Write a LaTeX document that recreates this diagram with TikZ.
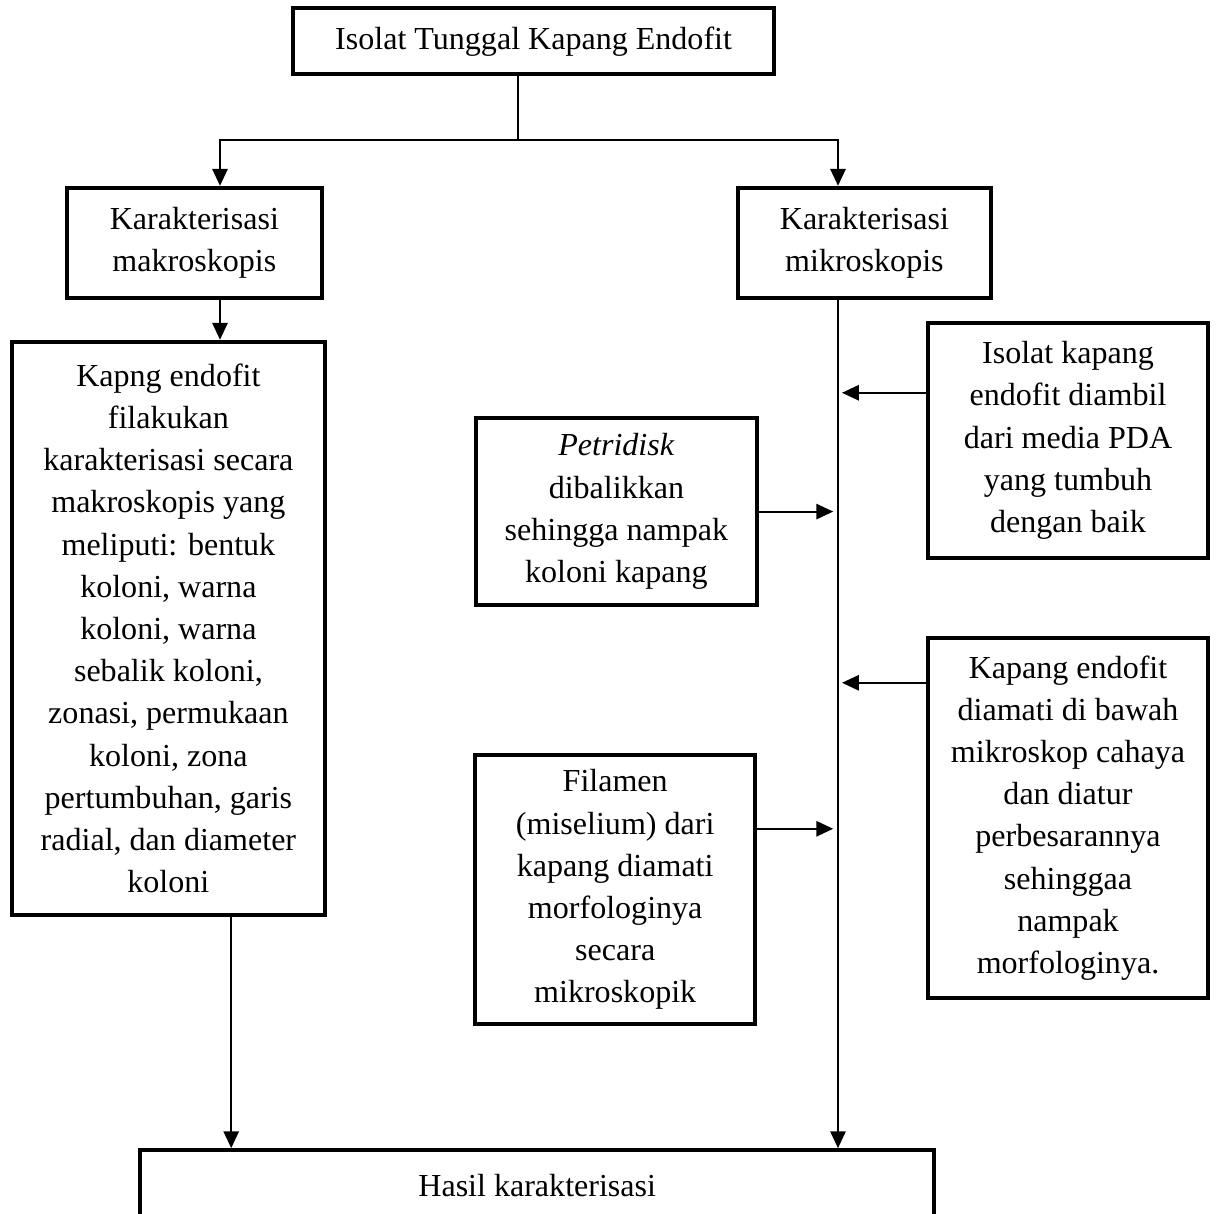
\documentclass[tikz,border=0pt]{standalone}
\usepackage{fontspec}
\setmainfont{Liberation Serif}
\usetikzlibrary{arrows.meta}

\begin{document}
\begin{tikzpicture}[>={Triangle[length=0.42cm,width=0.38cm]},
  every node/.style={font=\fontsize{22.8}{30}\selectfont},
  blok/.style={draw, line width=0.1cm, align=center, inner sep=0pt},
  hubung/.style={line width=0.05cm}]
  \useasboundingbox (0,0) rectangle (30.45,30.35);

  % Top: single isolate
  \node[blok, minimum width=12.03cm, minimum height=1.65cm] (top) at (13.34,29.32) {Isolat Tunggal Kapang Endofit};

  % Two kinds of characterisation
  \node[blok, minimum width=6.38cm, minimum height=2.75cm] (mak) at (4.86,24.28) {Karakterisasi\\makroskopis};
  \node[blok, minimum width=6.33cm, minimum height=2.75cm] (mik) at (21.61,24.28) {Karakterisasi\\mikroskopis};

  % Left column
  \node[blok, minimum width=7.83cm, minimum height=14.33cm] (makdesc) at (4.21,14.64) {Kapng endofit\\filakukan\\karakterisasi secara\\makroskopis yang\\meliputi: bentuk\\koloni, warna\\koloni, warna\\sebalik koloni,\\zonasi, permukaan\\koloni, zona\\pertumbuhan, garis\\radial, dan diameter\\koloni};

  % Middle column
  \node[blok, minimum width=7.03cm, minimum height=4.68cm] (petri) at (15.41,17.56) {\textit{Petridisk}\\dibalikkan\\sehingga nampak\\koloni kapang};
  \node[blok, minimum width=7.0cm, minimum height=6.73cm] (filamen) at (15.38,8.11) {Filamen\\(miselium) dari\\kapang diamati\\morfologinya\\secara\\mikroskopik};

  % Right column
  \node[blok, minimum width=7.0cm, minimum height=5.88cm] (isolat) at (26.7,19.34) {Isolat kapang\\endofit diambil\\dari media PDA\\yang tumbuh\\dengan baik};
  \node[blok, minimum width=7.0cm, minimum height=9.0cm] (amati) at (26.7,9.9) {Kapang endofit\\diamati di bawah\\mikroskop cahaya\\dan diatur\\perbesarannya\\sehinggaa\\nampak\\morfologinya.};

  % Bottom: result (cut by the page edge)
  \node[blok, minimum width=19.85cm, minimum height=1.75cm] (hasil) at (13.43,0.72) {Hasil karakterisasi};

  % Branch points
  \coordinate (split) at (12.95,26.86);
  \coordinate (kiri) at (5.5,26.86);
  \coordinate (kanan) at (20.95,26.86);
  \coordinate (turun) at (5.78,0);
  \coordinate (isoarr) at (21.05,20.53);
  \coordinate (amatiarr) at (21.05,13.28);
  \coordinate (petriarr) at (20.83,17.56);
  \coordinate (filarr) at (20.83,9.63);

  % Connectors
  \draw[hubung] (top.south -| split) -- (split);
  \draw[hubung,<->] (kiri |- mak.north) -- (kiri) -- (kanan) -- (kanan |- mik.north);
  \draw[hubung,->] (kiri |- mak.south) -- (kiri |- makdesc.north);
  \draw[hubung,->] (makdesc.south -| turun) -- (turun |- hasil.north);
  \draw[hubung,->] (kanan |- mik.south) -- (kanan |- hasil.north);
  \draw[hubung,->] (isolat.west |- isoarr) -- (isoarr);
  \draw[hubung,->] (amati.west |- amatiarr) -- (amatiarr);
  \draw[hubung,->] (petri.east |- petriarr) -- (petriarr);
  \draw[hubung,->] (filamen.east |- filarr) -- (filarr);
\end{tikzpicture}
\end{document}
